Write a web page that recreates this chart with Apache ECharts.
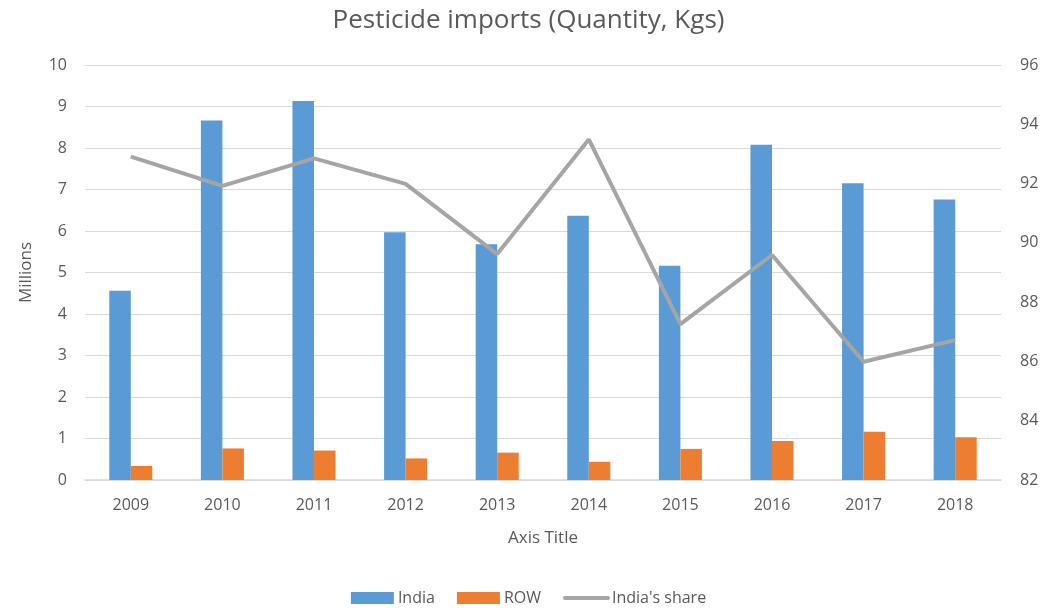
<!DOCTYPE html>
<html>
<head>
<meta charset="utf-8">
<script src="https://cdn.jsdelivr.net/npm/echarts@6/dist/echarts.min.js"></script>
<style>
  html, body { margin: 0; padding: 0; background: #fff; }
  #chart { width: 1057px; height: 608px; }
</style>
</head>
<body>
<div id="chart"></div>
<script>
// data
const years = ['2009', '2010', '2011', '2012', '2013', '2014', '2015', '2016', '2017', '2018']
const india = [4.56, 8.66, 9.13, 5.97, 5.68, 6.37, 5.16, 8.08, 7.15, 6.76]
const row = [0.34, 0.76, 0.71, 0.52, 0.66, 0.44, 0.75, 0.94, 1.16, 1.03]
const indiaShare = [92.91, 91.92, 92.85, 91.99, 89.62, 93.49, 87.26, 89.59, 85.99, 86.72]

const font = 'Open Sans, Liberation Sans, sans-serif'
const textColor = '#595959'

const option = {
  animation: false,
  textStyle: { fontFamily: font },
  title: {
    text: 'Pesticide imports (Quantity, Kgs)',
    left: 'center',
    top: 3,
    textStyle: { fontFamily: font, fontSize: 26, fontWeight: 'normal', color: textColor },
  },
  legend: {
    top: 585,
    itemWidth: 43,
    itemHeight: 12,
    itemGap: 22,
    textStyle: { fontFamily: font, fontSize: 16, color: textColor, padding: [0, 0, 0, -1] },
    data: [
      { name: 'India', icon: 'rect' },
      { name: 'ROW', icon: 'rect' },
      // line only in the legend, no dot
      {
        name: "India's share",
        itemStyle: { color: 'rgba(0,0,0,0)', borderWidth: 0 },
        lineStyle: { width: 4, cap: 'round' },
      },
    ],
  },
  grid: {
    left: 85,
    right: 56,
    top: 65,
    bottom: 128,
  },
  xAxis: {
    type: 'category',
    data: years,
    name: 'Axis Title',
    nameLocation: 'middle',
    nameGap: 50,
    nameTextStyle: { fontSize: 17, color: textColor },
    axisLine: { lineStyle: { color: '#D9D9D9', width: 1.5 } },
    axisTick: { show: false },
    axisLabel: { fontSize: 16, color: textColor, margin: 17 },
  },
  yAxis: [
    {
      type: 'value',
      min: 0,
      max: 10,
      interval: 1,
      name: 'Millions',
      nameLocation: 'middle',
      nameGap: 50,
      nameTextStyle: { fontSize: 17, color: textColor },
      axisLabel: { fontSize: 16, color: textColor, margin: 18 },
      splitLine: { lineStyle: { color: '#D9D9D9', width: 1.2 } },
    },
    {
      type: 'value',
      min: 82,
      max: 96,
      interval: 2,
      position: 'right',
      axisLabel: { fontSize: 16, color: textColor, margin: 19 },
      splitLine: { show: false },
    },
  ],
  series: [
    {
      name: 'India',
      type: 'bar',
      data: india,
      barGap: '0%',
      barCategoryGap: '53%',
      itemStyle: { color: '#5B9BD5' },
    },
    {
      name: 'ROW',
      type: 'bar',
      data: row,
      itemStyle: { color: '#ED7D31' },
    },
    {
      name: "India's share",
      type: 'line',
      yAxisIndex: 1,
      data: indiaShare,
      symbol: 'none',
      lineStyle: { color: '#A5A5A5', width: 4 },
      itemStyle: { color: '#A5A5A5' },
    },
  ],
}

const chartObj = echarts.init(document.getElementById('chart'))
chartObj.setOption(option)
</script>
</body>
</html>
